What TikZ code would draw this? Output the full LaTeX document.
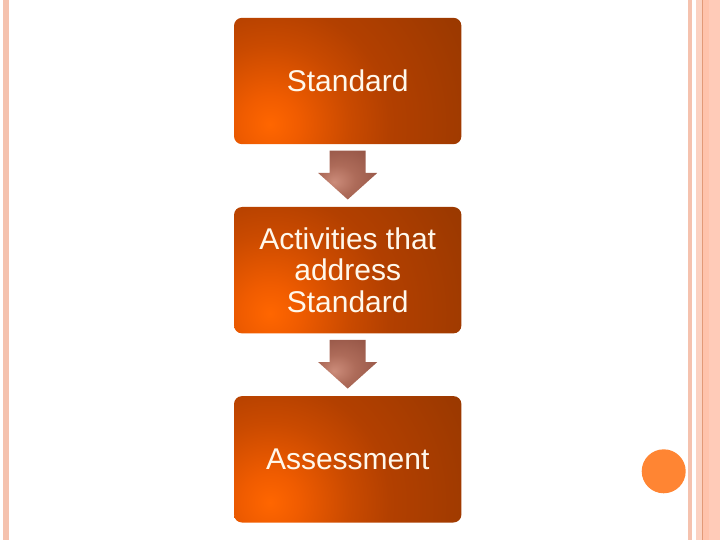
\documentclass[tikz,border=0pt]{standalone}
\usepackage{fontspec}
\setmainfont{Liberation Sans}
\usetikzlibrary{calc,backgrounds}
\definecolor{stripeA}{HTML}{F5C2AE}
\definecolor{stripeB}{HTML}{FBD2C2}
\definecolor{stripeC}{HTML}{FFC3AC}
\definecolor{stripeD}{HTML}{FFCBB8}
\definecolor{stripeLine}{HTML}{E39A78}
\definecolor{dotorange}{HTML}{FF8533}
\definecolor{boxtext}{HTML}{FFF8EC}
\pgfdeclareradialshading{glow}{\pgfpoint{0bp}{0bp}}{%
  rgb(0bp)=(1,0.40,0);
  rgb(3bp)=(0.94,0.36,0);
  rgb(8.3bp)=(0.79,0.29,0);
  rgb(12.5bp)=(0.70,0.25,0);
  rgb(23bp)=(0.60,0.22,0);
  rgb(25bp)=(0.59,0.21,0);
  rgb(50bp)=(0.59,0.21,0)}
\pgfdeclareradialshading{arrowshade}{\pgfpoint{-12bp}{-7bp}}{%
  rgb(0bp)=(0.80,0.55,0.48);
  rgb(15bp)=(0.68,0.42,0.35);
  rgb(35bp)=(0.58,0.33,0.27);
  rgb(50bp)=(0.54,0.30,0.24)}
\tikzset{
  stepbox/.style={rectangle, minimum width=227pt,
    minimum height=126pt, inner sep=0pt,
    text=boxtext, align=center,
    font=\fontsize{30}{31.3}\selectfont},
  downarrow/.style={shade, shading=arrowshade},
}
\begin{document}
\begin{tikzpicture}[x=1pt,y=-1pt]
\useasboundingbox (0,0) rectangle (720,540);
% side stripes
\fill[stripeA] (3,0) rectangle (9,540);
\fill[stripeA] (688,0) rectangle (692,540);
\fill[stripeB] (696,0) rectangle (702,540);
\fill[stripeLine] (702,0) rectangle (703,540);
\fill[stripeC] (703,0) rectangle (709,540);
\fill[stripeD] (709,0) rectangle (720,540);
% boxes
\node[stepbox] (b1) at (347.7,81) {Standard};
\node[stepbox] (b2) at (347.7,270.2) {Activities that\\address\\Standard};
\node[stepbox] (b3) at (347.7,459.3) {Assessment};
\begin{pgfonlayer}{background}
\foreach \b in {b1,b2,b3}{
  \begin{scope}
    \clip[rounded corners=8pt] (\b.north west) rectangle (\b.south east);
    \shade[shading=glow] ($(\b.south west)+(36,-20)$) circle (240pt);
  \end{scope}
}
\end{pgfonlayer}
% arrows
\foreach \s/\t in {b1/b2, b2/b3}{
  \coordinate (top) at ($(\s.south)+(0,6.5)$);
  \coordinate (tip) at ($(\t.north)+(0,-7.5)$);
  \path[downarrow] ($(top)+(-18,0)$) -- ($(top)+(18,0)$)
     -- ($(tip)+(18,-26.5)$) -- ($(tip)+(29.5,-26.5)$) -- (tip)
     -- ($(tip)+(-29.5,-26.5)$) -- ($(tip)+(-18,-26.5)$) -- cycle;
}
% decorative dot
\node[circle, fill=dotorange, minimum size=44pt, inner sep=0pt] (dot) at (663.7,471.3) {};
\end{tikzpicture}
\end{document}
